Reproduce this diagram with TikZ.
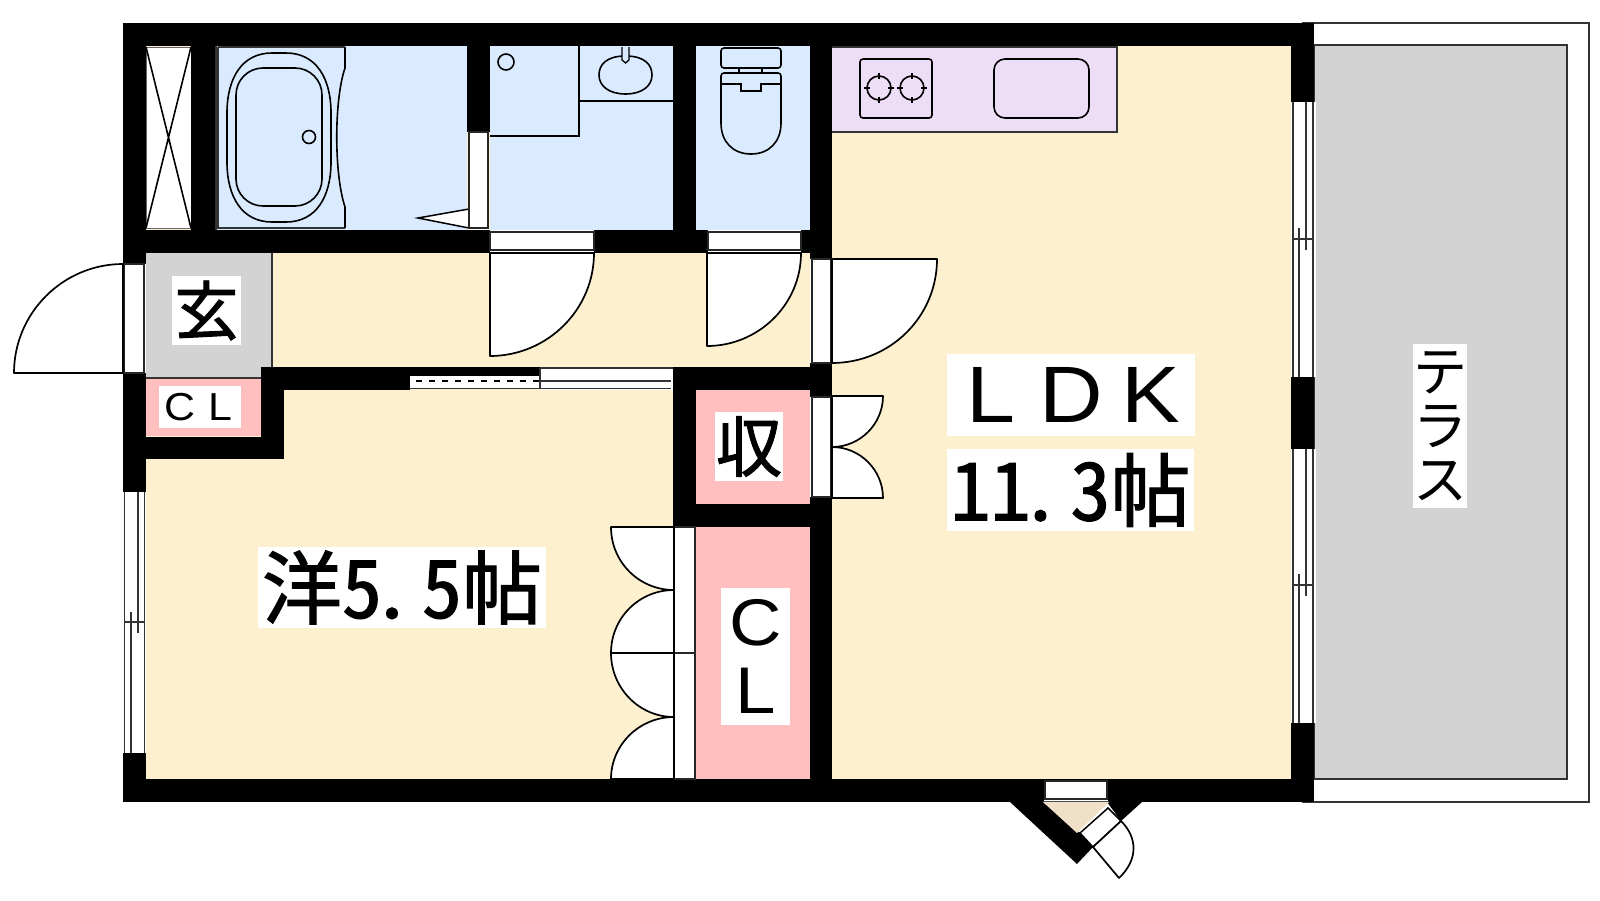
\documentclass[tikz,border=0pt]{standalone}
\usepackage{fontspec}
\setmainfont{Noto Sans CJK JP}
\newfontfamily\hwfont[RawFeature=+hwid,FakeBold=1.5]{Noto Sans CJK JP}
\newfontfamily\heavyfont[FakeBold=1.5]{Noto Sans CJK JP}
\newfontfamily\latinfont[FakeStretch=1.1]{Liberation Sans}
\newcommand\hc[1]{\makebox[40pt][c]{\hwfont #1}}
\newcommand\hd{\makebox[40pt][l]{\hspace{-10pt}\hwfont .}}
\newcommand\fw[2]{\makebox[#1pt][c]{\latinfont #2}}
\definecolor{cream}{HTML}{FDF0CF}
\definecolor{wetblue}{HTML}{DAEBFF}
\definecolor{kitchen}{HTML}{EEDDF6}
\definecolor{storage}{HTML}{FFBFBF}
\definecolor{floorgray}{HTML}{D3D3D3}
\definecolor{porch}{HTML}{F0E0C8}
\tikzset{
  wall/.style={fill=black,draw=none},
  frame/.style={fill=white,draw=black!85,line width=1.3pt},
  swing/.style={fill=white,draw=black,line width=1.7pt,line join=round},
  fixture/.style={draw=black,line width=1.6pt},
  thin line/.style={draw=black!80,line width=1.2pt},
  lbl/.style={fill=white,inner sep=0pt,align=center,anchor=center},
}
\begin{document}
\begin{tikzpicture}[x=1pt,y=-1pt]
\useasboundingbox (0,0) rectangle (1600,900);
% floors
\fill[cream] (146,46) rectangle (1291,779);
\fill[wetblue] (215,46) rectangle (467,230);
\fill[wetblue] (490,46) rectangle (673,230);
\fill[wetblue] (696,46) rectangle (810,230);
\fill[floorgray] (146,253) rectangle (272,378);
\draw[thin line] (272,253) -- (272,367);
\draw[thin line] (146,378) -- (261,378);
\fill[storage] (146,379) rectangle (261,436);
\fill[storage] (696,390) rectangle (810,504);
\fill[storage] (696,527) rectangle (810,779);
% terrace
\draw[thin line] (1302,23) -- (1589,23) -- (1589,802) -- (1302,802);
\filldraw[fill=floorgray,draw=black!80,line width=1.3pt] (1314,45) rectangle (1567,779);
% kitchen
\filldraw[fill=kitchen,draw=black!80,line width=1.3pt] (830,47) rectangle (1117,132);
\draw[fixture,rounded corners=3pt] (860,59) rectangle (932,118);
\draw[fixture] (879,88) circle[radius=12] (912,88) circle[radius=12];
\draw[fixture] (864,88) -- (870,88) (888,88) -- (894,88) (879,73) -- (879,79) (879,97) -- (879,103);
\draw[fixture] (897,88) -- (903,88) (921,88) -- (927,88) (912,73) -- (912,79) (912,97) -- (912,103);
\draw[fixture,rounded corners=11pt] (994,59) rectangle (1089,118);
% shaft
\filldraw[fill=white,draw=black!60,line width=1pt] (146,47) rectangle (191,228);
\draw[fixture] (146,47) -- (191,228) (191,47) -- (146,228);
% bath
\draw[thin line] (216,46) -- (216,230);
\draw[thin line] (218,47) -- (345,47) (218,47) -- (218,228) -- (345,228);
\draw[fixture] (345,47) -- (345,68) .. controls (334,100) and (334,174) .. (345,207) -- (345,228);
\draw[fixture] (272,53) -- (286,53) .. controls (316,53) and (331,78) .. (331,113) -- (331,162) .. controls (331,197) and (316,222) .. (286,222) -- (272,222) .. controls (242,222) and (227,197) .. (227,162) -- (227,113) .. controls (227,78) and (242,53) .. (272,53) -- cycle;
\draw[fixture,rounded corners=27pt] (236,68) rectangle (322,206);
\draw[fixture] (309,137) circle[radius=6.5];
\filldraw[fill=white,draw=black,line width=1.5pt] (418,218) -- (469,209) -- (469,228) -- cycle;
% wash room
\draw[fixture] (490,136) -- (579,136) -- (579,46);
\draw[fixture] (506,62) circle[radius=8];
\draw[fixture] (579,101) -- (673,101);
\draw[fixture] (625.5,56) .. controls (645,56) and (652,65) .. (652,75) .. controls (652,86) and (642,94) .. (625.5,94) .. controls (609,94) and (599,86) .. (599,75) .. controls (599,65) and (606,56) .. (625.5,56) -- cycle;
\filldraw[fill=wetblue,draw=black,line width=1.3pt] (622,47) -- (622,60) -- (625.5,63) -- (629,60) -- (629,47);
% toilet
\draw[fixture,rounded corners=3pt] (721,48) rectangle (781,68);
\draw[fixture] (739,68) rectangle (762,73);
\draw[fixture,rounded corners=3pt] (721,84) -- (721,73) -- (781,73) -- (781,84);
\draw[fixture] (721,84) -- (741,84) -- (741,91) -- (761,91) -- (761,84) -- (781,84);
\draw[fixture] (721,84) -- (721,123) .. controls (721,142) and (733,154) .. (751,154) .. controls (769,154) and (781,142) .. (781,123) -- (781,84);
% walls
\fill[wall] (123,23) rectangle (1314,46);
\fill[wall] (123,23) rectangle (146,264);
\fill[wall] (123,373) rectangle (146,492);
\fill[wall] (123,753) rectangle (146,802);
\fill[wall] (123,779) rectangle (1314,802);
\fill[wall] (1291,23) rectangle (1314,102);
\fill[wall] (1291,377) rectangle (1314,449);
\fill[wall] (1291,723) rectangle (1314,802);
\fill[wall] (191,46) rectangle (215,253);
\fill[wall] (123,230) rectangle (832,253);
\fill[wall] (467,46) rectangle (490,132);
\fill[wall] (673,46) rectangle (696,253);
\fill[wall] (810,46) rectangle (832,259);
\fill[wall] (261,367) rectangle (410,390);
\fill[wall] (261,367) rectangle (284,459);
\fill[wall] (123,437) rectangle (284,459);
\fill[wall] (410,367) rectangle (540,376);
\fill[wall] (673,367) rectangle (832,390);
\fill[wall] (673,367) rectangle (696,527);
\fill[wall] (673,504) rectangle (832,527);
\fill[wall] (810,363) rectangle (832,397);
\fill[wall] (810,497) rectangle (832,802);
\fill[wall] (1010,802) -- (1043,802) -- (1080,833) -- (1093,847) -- (1077,864) -- cycle;
\fill[wall] (1107,802) -- (1142,802) -- (1121,821) -- cycle;
% openings behind the door frames
\fill[white] (468,132) rectangle (489,230);
\fill[white] (123,264) rectangle (146,373);
\fill[white] (810,259) rectangle (832,363);
\fill[white] (810,397) rectangle (832,497);
\fill[white] (673,527) rectangle (696,779);
% bath door
\draw[frame] (469,132) rectangle (488,228);
% entry door
\draw[frame] (124,264) rectangle (144,373);
\draw[swing] (123,264) .. controls (63,264) and (14,313) .. (14,373) -- (123,373) -- cycle;
% hall doors
\fill[white] (490,230) rectangle (594,253);
\draw[frame] (490,232) rectangle (594,250);
\draw[swing] (490,253) -- (490,356) .. controls (547,356) and (594,310) .. (594,253) -- cycle;
\fill[white] (708,230) rectangle (801,253);
\draw[frame] (708,232) rectangle (801,250);
\draw[swing] (707,253) -- (707,346) .. controls (758,346) and (801,305) .. (801,253) -- cycle;
\draw[frame] (812,259) rectangle (831,363);
\draw[swing] (832,259) -- (937,259) .. controls (937,317) and (890,363) .. (832,363) -- cycle;
% closet door (LDK side)
\draw[frame] (812,397) rectangle (831,497);
\draw[swing] (832,396) -- (883,396) .. controls (883,424) and (860,447) .. (832,447) -- cycle;
\draw[swing] (832,447) .. controls (860,447) and (883,470) .. (883,498) -- (832,498) -- cycle;
% sliding door
\fill[white] (410,376) rectangle (540,388);
\fill[white] (540,367) rectangle (673,390);
\draw[thin line] (410,388.5) -- (671,388.5);
\draw[thin line] (540,368) -- (673,368);
\draw[thin line] (540,368) -- (540,389);
\draw[thin line] (540,381) -- (671,381);
\draw[fixture,dashed,dash pattern=on 6pt off 7pt] (416,381) -- (540,381);
% CL doors
\draw[frame] (674,527) rectangle (695,653);
\draw[frame] (674,653) rectangle (695,779);
\draw[swing] (611,527) -- (674,527) -- (674,590) .. controls (639,590) and (611,562) .. (611,527) -- cycle;
\draw[swing] (674,590) -- (674,653) -- (611,653) .. controls (611,618) and (639,590) .. (674,590) -- cycle;
\draw[swing] (611,653) -- (674,653) -- (674,717) .. controls (639,717) and (611,688) .. (611,653) -- cycle;
\draw[swing] (674,717) -- (674,779) -- (611,779) .. controls (611,745) and (639,717) .. (674,717) -- cycle;
% windows
\fill[white] (1291,102) rectangle (1316,377);
\fill[white] (1291,449) rectangle (1316,723);
\draw[thin line] (1293,102) -- (1293,377) (1313,102) -- (1313,377) (1293,449) -- (1293,723) (1313,449) -- (1313,723);
\draw[thin line] (1306,102) -- (1306,250) (1299,228) -- (1299,377) (1293,239) -- (1313,239);
\draw[thin line] (1306,449) -- (1306,596) (1299,574) -- (1299,723) (1293,585) -- (1313,585);
\fill[white] (123,492) rectangle (146,753);
\draw[thin line] (124.5,492) -- (124.5,753) (144.5,492) -- (144.5,753);
\draw[thin line] (138,492) -- (138,633) (131,612) -- (131,753) (124,622) -- (145,622);
% gate
\fill[white] (1044,780) rectangle (1108,801);
\draw[frame] (1045,781) rectangle (1107,799);
\fill[porch] (1043,802) -- (1109,802) -- (1077,833) -- cycle;
\draw[draw=black!70,line width=1.2pt] (1043,801.5) -- (1109,801.5);
\filldraw[fill=white,draw=black,line width=1.5pt] (1108,808) -- (1121,821) -- (1093,847) -- (1080,833) -- cycle;
\draw[swing] (1121,821) .. controls (1138,838) and (1138,860) .. (1119,878) -- (1093,847) -- cycle;
% labels
\node[lbl,minimum width=69pt,minimum height=69pt,font=\fontsize{64}{64}\selectfont\heavyfont] (genkan) at (206.5,310.5) {玄};
\node[lbl,minimum width=82pt,minimum height=42pt,font=\fontsize{39}{39}\selectfont] (clsmall) at (200,407) {\fw{40}{C}\fw{40}{L}};
\node[lbl,minimum width=68pt,minimum height=69pt,font=\fontsize{66}{66}\selectfont\heavyfont] (shu) at (749,446.5) {収};
\node[lbl,minimum width=69pt,minimum height=137pt,font=\fontsize{66}{68}\selectfont] (clbig) at (755.5,656.5) {\fw{68}{C}\\\fw{68}{L}};
\node[lbl,minimum width=288pt,minimum height=81pt,font=\fontsize{80}{80}\selectfont\heavyfont] (yo) at (402,587.5) {洋\hc{5}\hd\hc{5}帖};
\node[lbl,minimum width=248pt,minimum height=82pt,font=\fontsize{80}{80}\selectfont] (ldk) at (1071,395) {\fw{80}{L}\fw{80}{D}\fw{80}{K}};
\node[lbl,minimum width=247pt,minimum height=82pt,font=\fontsize{80}{80}\selectfont\heavyfont] (size) at (1070.5,490) {\hc{1}\hc{1}\hd\hc{3}帖};
\node[lbl,minimum width=54pt,minimum height=164pt,font=\fontsize{54}{54}\selectfont] (terrace) at (1440,426) {テ\\ラ\\ス};
\end{tikzpicture}
\end{document}
